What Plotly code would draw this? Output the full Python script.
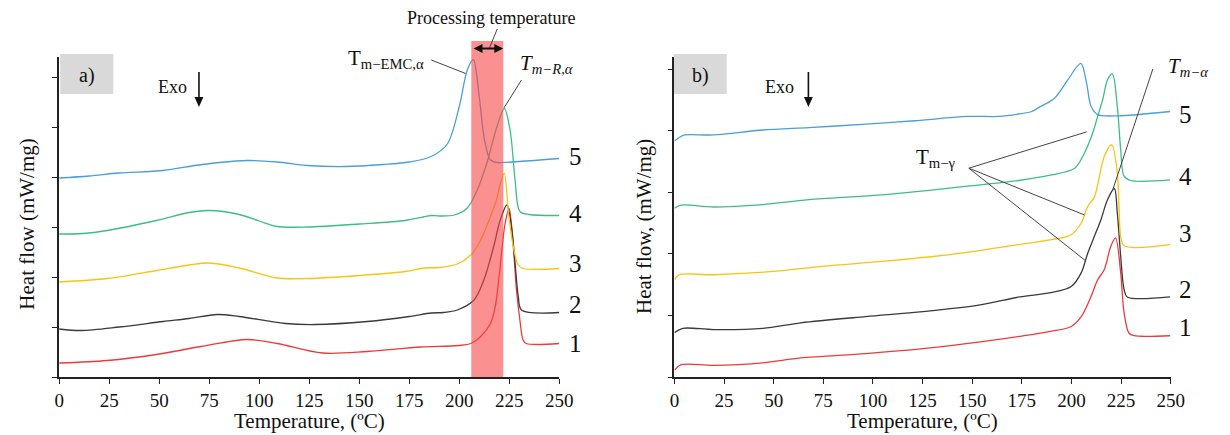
import plotly.graph_objects as go

W, H = 1230, 435

# ---------------- Panel a) DSC curves (heat flow, arbitrary offsets) ----------------
a5_T = [0, 15, 30, 52, 68, 80, 94, 109, 124, 143, 162, 175, 186, 194, 200, 204, 207, 210, 212.6, 215.6, 219, 230, 250]
a5_y = [3.98, 4.02, 4.08, 4.13, 4.23, 4.29, 4.33, 4.30, 4.23, 4.21, 4.25, 4.30, 4.41, 4.66, 5.41, 6.14, 6.35, 5.60, 4.74, 4.34, 4.29, 4.31, 4.37]

a4_T = [0, 12, 24, 48.6, 65, 75, 90, 100, 109, 124, 150, 173, 182, 186, 190, 197.6, 204, 209, 213.8, 218.8, 222.5, 225.4, 227.9, 230.3, 235, 250]
a4_y = [2.86, 2.87, 2.93, 3.13, 3.29, 3.33, 3.25, 3.12, 3.01, 3.00, 3.06, 3.13, 3.20, 3.23, 3.22, 3.24, 3.38, 3.74, 4.28, 5.00, 5.37, 4.94, 3.94, 3.31, 3.25, 3.23]

a3_T = [0, 24, 48.6, 65, 75, 90, 109, 124, 150, 173, 182.5, 190, 199, 205.8, 210.7, 215.6, 218.8, 220.5, 222.5, 224.6, 227, 229.5, 232, 250]
a3_y = [1.90, 1.97, 2.13, 2.24, 2.28, 2.18, 1.98, 1.97, 2.03, 2.11, 2.18, 2.19, 2.26, 2.44, 2.74, 3.21, 3.57, 3.87, 4.07, 3.27, 2.61, 2.24, 2.17, 2.17]

a2_T = [0, 11, 30, 52, 65, 79, 90, 113, 128, 154, 175, 186, 192, 199, 207.4, 212.3, 217.2, 220.5, 223.8, 226.3, 227.9, 229.5, 231.1, 250]
a2_y = [0.96, 0.93, 1.00, 1.11, 1.17, 1.25, 1.21, 1.07, 1.05, 1.11, 1.21, 1.28, 1.29, 1.34, 1.54, 1.94, 2.61, 3.14, 3.44, 2.94, 2.27, 1.61, 1.34, 1.29]

a1_T = [0, 24, 48.6, 71, 94, 109, 131.6, 154, 180.6, 199.5, 205.8, 210.7, 215.6, 218, 219.7, 221.3, 222.9, 224.9, 227, 228.6, 230.3, 231.9, 233.5, 250]
a1_y = [0.28, 0.33, 0.45, 0.61, 0.75, 0.67, 0.48, 0.51, 0.60, 0.63, 0.67, 0.81, 1.07, 1.41, 1.94, 2.54, 3.07, 3.37, 2.61, 1.74, 1.14, 0.74, 0.67, 0.67]

# ---------------- Panel b) DSC curves ----------------
b5_T = [0, 3, 5.2, 19.6, 44.5, 67.6, 94.5, 121, 148, 163.6, 173.4, 180, 183.3, 191.6, 198.3, 204.7, 207.6, 209.9, 213.2, 223.1, 249.7]
b5_y = [3.83, 3.90, 3.93, 3.93, 4.01, 4.05, 4.10, 4.16, 4.23, 4.23, 4.27, 4.31, 4.37, 4.53, 4.83, 5.09, 4.77, 4.39, 4.26, 4.24, 4.31]

b4_T = [0, 3.3, 19.6, 44.5, 67.6, 106, 154, 173.4, 189.9, 201.6, 206.6, 210.7, 213.2, 215.7, 218.2, 220.6, 223.1, 224.8, 226.5, 229.8, 249.7]
b4_y = [2.74, 2.79, 2.76, 2.80, 2.88, 2.96, 3.12, 3.19, 3.28, 3.39, 3.64, 3.96, 4.23, 4.50, 4.83, 4.92, 4.39, 3.69, 3.26, 3.19, 3.20]

b3_T = [0, 2.3, 19.6, 48.4, 75.3, 106, 144.4, 173.3, 190, 199.9, 204.9, 208.2, 211.5, 213.2, 216.5, 220.3, 223.1, 224, 224.8, 226.5, 249.7]
b3_y = [1.58, 1.66, 1.66, 1.71, 1.80, 1.88, 2.01, 2.15, 2.23, 2.31, 2.50, 2.77, 2.92, 3.12, 3.58, 3.77, 3.31, 2.72, 2.28, 2.13, 2.15]

b2_T = [0, 4.2, 19.6, 44.5, 63.7, 96.3, 125.2, 154, 174, 189.5, 199.9, 204.9, 208.2, 211.5, 214.8, 218.2, 221.6, 223.1, 224.8, 226.5, 228.1, 249.7]
b2_y = [0.72, 0.79, 0.77, 0.79, 0.88, 0.98, 1.06, 1.17, 1.30, 1.37, 1.47, 1.69, 2.01, 2.28, 2.55, 2.88, 3.06, 2.66, 1.96, 1.42, 1.30, 1.30]

b1_T = [0, 3.3, 19.6, 44.5, 63.7, 96.3, 125.2, 154, 174, 189.5, 199.9, 204.9, 209.9, 213.2, 216.5, 219.8, 222.2, 224.8, 226.5, 229, 231.5, 249.7]
b1_y = [0.11, 0.20, 0.19, 0.23, 0.31, 0.38, 0.46, 0.57, 0.66, 0.74, 0.82, 0.98, 1.31, 1.58, 1.74, 2.12, 2.26, 1.69, 1.04, 0.71, 0.67, 0.67]

curve_labels = ["1", "2", "3", "4", "5"]
x_ticks = [0, 25, 50, 75, 100, 125, 150, 175, 200, 225, 250]
processing_range = [206, 222]  # ºC

colors = {"1": "#ec3a3c", "2": "#3a3a3a", "3": "#f6c413", "4": "#3dbd84", "5": "#4b9fd8"}

panel_a = {"1": (a1_T, a1_y), "2": (a2_T, a2_y), "3": (a3_T, a3_y), "4": (a4_T, a4_y), "5": (a5_T, a5_y)}
panel_b = {"1": (b1_T, b1_y), "2": (b2_T, b2_y), "3": (b3_T, b3_y), "4": (b4_T, b4_y), "5": (b5_T, b5_y)}

SERIF = "Liberation Serif, Times New Roman, serif"

fig = go.Figure()
for key in curve_labels:
    T, y = panel_a[key]
    fig.add_trace(go.Scatter(x=T, y=y, mode="lines", xaxis="x", yaxis="y",
                             line=dict(color=colors[key], width=1.3, shape="spline", smoothing=0.9),
                             showlegend=False, hoverinfo="skip"))
for key in curve_labels:
    T, y = panel_b[key]
    fig.add_trace(go.Scatter(x=T, y=y, mode="lines", xaxis="x2", yaxis="y2",
                             line=dict(color=colors[key], width=1.3, shape="spline", smoothing=0.9),
                             showlegend=False, hoverinfo="skip"))


def fx(p):
    return p / W


def fy(p):
    return 1 - p / H


y_dom = [fy(377), fy(57)]
axis_common = dict(showgrid=False, zeroline=False, showline=True, linecolor="#222", linewidth=1.5,
                   ticks="outside", ticklen=5, tickwidth=1.2, tickcolor="#222")

fig.update_layout(
    width=W, height=H, margin=dict(l=0, r=0, t=0, b=0),
    paper_bgcolor="white", plot_bgcolor="white",
    font=dict(family=SERIF, color="#111"),
    xaxis=dict(domain=[fx(55), fx(563)], range=[0, 250], tickvals=x_ticks, anchor="y",
               tickfont=dict(size=19, family=SERIF, color="#111"), **axis_common),
    yaxis=dict(domain=y_dom, range=[0, 6.4], tickvals=[0, 1, 2, 3, 4, 5, 6], showticklabels=False,
               anchor="x", **axis_common),
    xaxis2=dict(domain=[fx(680), fx(1184)], range=[0, 250], tickvals=x_ticks, anchor="y2",
                tickfont=dict(size=19, family=SERIF, color="#111"), **axis_common),
    yaxis2=dict(domain=y_dom, range=[0, 5.195], tickvals=[0, 1, 2, 3, 4, 5], showticklabels=False,
                anchor="x2", **axis_common),
)

shapes = []
# processing temperature window
shapes.append(dict(type="rect", xref="x", yref="paper", x0=processing_range[0], x1=processing_range[1],
                   y0=fy(377), y1=fy(41), fillcolor="rgba(248,70,70,0.6)", line=dict(width=0),
                   layer="above"))
# panel tag boxes
for x0 in (56, 679):
    shapes.append(dict(type="rect", xref="paper", yref="paper", x0=fx(x0), x1=fx(x0 + 54),
                       y0=fy(94), y1=fy(54), fillcolor="#d9d9d9", line=dict(width=0), layer="below"))

pointer = dict(color="#444", width=1)
# T_m-EMC,α and T_m-R,α pointers (panel a)
shapes.append(dict(type="line", xref="x", yref="y", x0=186, y0=6.34, x1=203.2, y1=6.07, line=pointer))
shapes.append(dict(type="line", xref="x", yref="y", x0=231.1, y0=5.94, x1=222.3, y1=5.38, line=pointer))
# processing temperature pointer
shapes.append(dict(type="line", xref="paper", yref="paper", x0=fx(500), y0=fy(29), x1=fx(492), y1=fy(48),
                   line=pointer))
# T_m-γ pointers (panel b)
for tx, ty in [(207.7, 3.98), (206.6, 2.63), (207.4, 1.88)]:
    shapes.append(dict(type="line", xref="x2", yref="y2", x0=148.3, y0=3.39, x1=tx, y1=ty, line=pointer))
# T_m-α pointer to the peak of curve 2
shapes.append(dict(type="line", xref="x2", yref="y2", x0=241, y0=5.0, x1=220.8, y1=3.04, line=pointer))

# Exo arrows (shaft + head), drawn in page pixels
ink = "#111"
for ax_x in (197, 816):
    shapes.append(dict(type="line", xref="paper", yref="paper", x0=fx(ax_x), x1=fx(ax_x),
                       y0=fy(72), y1=fy(99), line=dict(color=ink, width=1.6)))
    shapes.append(dict(type="path", xref="paper", yref="paper",
                       path=f"M {fx(ax_x - 4.5)},{fy(97)} L {fx(ax_x + 4.5)},{fy(97)} L {fx(ax_x)},{fy(107)} Z",
                       fillcolor=ink, line=dict(width=0)))

# double arrow spanning the processing window
xa_l, xa_r, ya = 476, 506, 48.5
shapes.append(dict(type="line", xref="paper", yref="paper", x0=fx(xa_l + 6), x1=fx(xa_r - 6),
                   y0=fy(ya), y1=fy(ya), line=dict(color=ink, width=2)))
shapes.append(dict(type="path", xref="paper", yref="paper",
                   path=f"M {fx(xa_l)},{fy(ya)} L {fx(xa_l + 9)},{fy(ya - 4.5)} L {fx(xa_l + 9)},{fy(ya + 4.5)} Z",
                   fillcolor=ink, line=dict(width=0)))
shapes.append(dict(type="path", xref="paper", yref="paper",
                   path=f"M {fx(xa_r)},{fy(ya)} L {fx(xa_r - 9)},{fy(ya - 4.5)} L {fx(xa_r - 9)},{fy(ya + 4.5)} Z",
                   fillcolor=ink, line=dict(width=0)))
fig.update_layout(shapes=shapes)

ann = []


def text(x, y, s, size, **kw):
    d = dict(x=fx(x), y=fy(y), xref="paper", yref="paper", text=s, showarrow=False,
             font=dict(size=size, family=SERIF, color="#111"), xanchor="center", yanchor="middle")
    d.update(kw)
    ann.append(d)


# panel tags
text(83, 75, "a)", 20)
text(706, 75, "b)", 20)
# Exo markers
text(170, 87, "Exo", 18)
text(787, 87, "Exo", 18)
# processing temperature label
text(494, 18, "Processing temperature", 18)
# peak labels
text(387, 59, "T<sub>m\u2212EMC,\u03b1</sub>", 21)
text(550, 64, "<i>T<sub>m\u2212R,\u03b1</sub></i>", 21)
text(946, 158, "T<sub>m\u2212\u03b3</sub>", 21)
text(1202, 67, "<i>T<sub>m\u2212\u03b1</sub></i>", 21)

# curve numbers
for lbl, ypx in zip(curve_labels, [343, 304, 263, 213, 156]):
    text(579, ypx, lbl, 25)
for lbl, ypx in zip(curve_labels, [327, 289, 234, 177, 114]):
    text(1199, ypx, lbl, 25)

# axis titles
text(22, 224, "Heat flow (mW/mg)", 21, textangle=-90)
text(649, 226, "Heat flow, (mW/mg)", 21, textangle=-90)
text(309, 421, "Temperature, (ºC)", 21)
text(932, 421, "Temperature, (ºC)", 21)

fig.update_layout(annotations=ann)
fig.write_html("out.html")
